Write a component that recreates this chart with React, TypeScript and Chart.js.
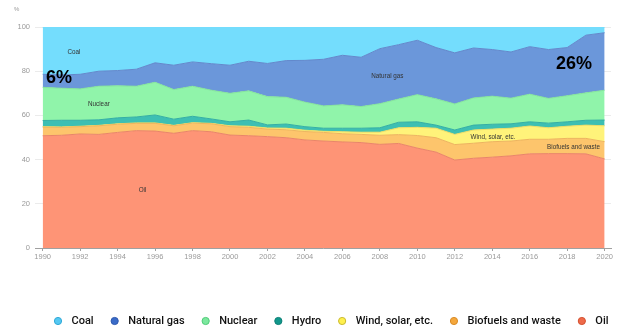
import React, { useEffect, useRef } from "react";
import { Chart, registerables } from "chart.js";
Chart.register(...registerables);

const years = [1990,1991,1992,1993,1994,1995,1996,1997,1998,1999,2000,2001,2002,2003,2004,2005,2006,2007,2008,2009,2010,2011,2012,2013,2014,2015,2016,2017,2018,2019,2020];
const tickYears = [1990,1992,1994,1996,1998,2000,2002,2004,2006,2008,2010,2012,2014,2016,2018,2020];
const yTicks = [0,20,40,60,80,100];

const oil = [50.8,51.0,51.6,51.4,52.3,53.1,52.9,51.9,53.1,52.6, 51.1,50.8,50.4,49.9,48.9,48.4,48.0,47.7,46.9,47.3, 45.2,43.4,39.8,40.6,41.1,41.7,42.6,42.7,42.7,42.6,40.3];
const biofuels = [3.9,3.6,3.3,3.9,3.7,3.3,3.5,3.4,3.4,3.6, 3.8,3.8,3.4,3.6,3.8,3.9,3.7,3.7,4.1,4.0, 5.7,6.5,7.0,6.8,7.0,6.7,6.6,6.5,6.9,7.0,7.8];
const wind = [0.2,0.2,0.2,0.2,0.2,0.2,0.2,0.2,0.2,0.2, 0.4,0.5,0.5,0.7,0.6,0.5,0.9,1.0,1.4,3.1, 3.7,4.3,4.6,6.0,5.7,5.8,6.0,5.2,5.5,6.0,7.2];
const hydro = [2.8,3.0,2.7,2.5,2.7,2.7,3.6,2.8,2.9,2.0, 1.8,2.8,1.4,1.9,1.6,1.4,1.6,1.8,2.0,2.5, 2.5,1.4,2.0,2.2,2.2,2.0,1.9,2.1,2.0,2.2,2.6];
const nuclear = [15.0,14.5,14.2,15.2,14.5,13.9,14.8,13.4,13.6,13.0, 12.9,13.2,12.8,12.1,11.1,10.1,10.6,9.8,10.9,10.5, 12.3,11.9,11.8,12.3,12.7,11.6,12.5,11.2,11.8,12.4,13.5];
const gas = [5.9,6.0,6.6,6.8,6.9,7.7,8.8,11.0,11.0,12.0, 12.7,13.4,15.0,16.6,18.9,21.1,22.4,22.3,24.9,24.6, 24.6,23.2,23.1,22.6,21.1,20.9,21.5,22.1,21.8,26.1,26.0];
const coal = [21.4,21.7,21.4,20.0,19.7,19.1,16.2,17.3,15.8,16.6, 17.3,15.5,16.5,15.2,15.1,14.6,12.8,13.7,9.8,8.0, 6.0,9.3,11.7,9.5,10.2,11.3,8.9,10.2,9.3,3.7,2.6];

const seriesNames = ["Oil", "Biofuels and waste", "Wind, solar, etc.", "Hydro", "Nuclear", "Natural gas", "Coal"];
const seriesValues = [oil, biofuels, wind, hydro, nuclear, gas, coal];
const fillColors = ["#FE9476", "#FDC56C", "#FFF37A", "#3DBFB3", "#90F4AA", "#6B97DA", "#74DDFD"];
const lineColors = ["#E98568", "#EDB45E", "#EBDD66", "#34AFA3", "#84E39C", "#6289CC", "#74DDFD"];

const legendNames = ["Coal", "Natural gas", "Nuclear", "Hydro", "Wind, solar, etc.", "Biofuels and waste", "Oil"];
const legendFill = ["#55C8F2", "#3A6BC8", "#7CE89E", "#11978B", "#FFF04E", "#F4A73C", "#EE6A4A"];
const legendStroke = ["#2FA8D6", "#2D58AE", "#4FCB78", "#0B7F75", "#C9B92E", "#D98B25", "#D4502F"];

const annoTexts = ["Coal", "6%", "Nuclear", "Natural gas", "26%", "Oil", "Wind, solar, etc.", "Biofuels and waste"];
const annoX = [1991.67, 1990.87, 1993.0, 2008.4, 2018.37, 1995.33, 2014.04, 2018.34];
const annoY = [88.6, 77.0, 65.1, 77.7, 83.2, 26.3, 50.2, 45.7];
const annoBig = [false, true, false, false, true, false, false, false];

const annotationPlugin = {
  id: "annotations",
  afterDatasetsDraw(chart: any) {
    const { ctx, scales } = chart;
    ctx.save();
    ctx.textAlign = "center";
    ctx.textBaseline = "middle";
    annoTexts.forEach((t, i) => {
      const x = scales.x.getPixelForValue(annoX[i]);
      const y = scales.y.getPixelForValue(annoY[i]);
      if (annoBig[i]) {
        ctx.font = "bold 18px 'Liberation Sans', sans-serif";
        ctx.fillStyle = "#000";
      } else {
        ctx.font = "6.3px 'Liberation Sans', sans-serif";
        ctx.fillStyle = "#333";
      }
      ctx.fillText(t, x, y);
    });
    ctx.restore();
  },
};

const extrasPlugin = {
  id: "extras",
  afterDraw(chart: any) {
    const { ctx } = chart;
    ctx.save();
    ctx.font = "6px 'Liberation Sans', sans-serif";
    ctx.fillStyle = "#999";
    ctx.textAlign = "left";
    ctx.textBaseline = "middle";
    ctx.fillText("%", 14, 9);

    ctx.font = "500 11px Roboto, 'Liberation Sans', sans-serif";
    let x = 54;
    const y = 321;
    legendNames.forEach((name, i) => {
      ctx.beginPath();
      ctx.arc(x + 4, y, 3.6, 0, Math.PI * 2);
      ctx.fillStyle = legendFill[i];
      ctx.fill();
      ctx.lineWidth = 1;
      ctx.strokeStyle = legendStroke[i];
      ctx.stroke();
      ctx.fillStyle = "#111";
      ctx.fillText(name, x + 4 + 13.5, y);
      x += 4 + 13.5 + ctx.measureText(name).width + 17;
    });
    ctx.restore();
  },
};

export default function App() {
  const ref = useRef<HTMLCanvasElement | null>(null);
  useEffect(() => {
    if (!ref.current) return;
    const datasets = seriesNames.map((name, i) => ({
      label: name,
      data: years.map((yr, j) => ({ x: yr, y: seriesValues[i][j] })),
      backgroundColor: fillColors[i],
      borderColor: lineColors[i],
      borderWidth: 1,
      pointRadius: 0,
      tension: 0,
      fill: i === 0 ? "origin" : "-1",
    }));
    const chart = new Chart(ref.current, {
      type: "line",
      data: { datasets },
      options: {
        animation: false,
        responsive: false,
        layout: { padding: { top: 27, right: 6, bottom: 72, left: 0 } },
        plugins: { legend: { display: false }, tooltip: { enabled: false } },
        scales: {
          x: {
            type: "linear",
            min: 1989.59,
            max: 2020.34,
            afterBuildTicks: (s: any) => {
              s.ticks = tickYears.map((v) => ({ value: v }));
            },
            ticks: {
              color: "#9a9a9a",
              font: { size: 7.5, family: "'Liberation Sans', sans-serif" },
              padding: 1,
              maxRotation: 0,
              autoSkip: false,
              callback: (v: any) => String(v),
            },
            grid: { drawOnChartArea: false, tickLength: 3, color: "#a0a0a0" },
            border: { display: true, color: "#a0a0a0" },
          },
          y: {
            stacked: true,
            min: 0,
            max: 100,
            afterBuildTicks: (s: any) => {
              s.ticks = yTicks.map((v) => ({ value: v }));
            },
            afterFit: (s: any) => {
              s.width = 35;
            },
            ticks: {
              color: "#9a9a9a",
              font: { size: 7.5, family: "'Liberation Sans', sans-serif" },
              padding: 5,
            },
            grid: { color: "#ebebeb", drawTicks: false },
            border: { display: false },
          },
        },
      },
      plugins: [annotationPlugin, extrasPlugin],
    });
    return () => chart.destroy();
  }, []);
  return (
    <div style={{ position: "absolute", left: 0, top: 0, width: 617, height: 334 }}>
      <canvas ref={ref} width={617} height={334} />
    </div>
  );
}
